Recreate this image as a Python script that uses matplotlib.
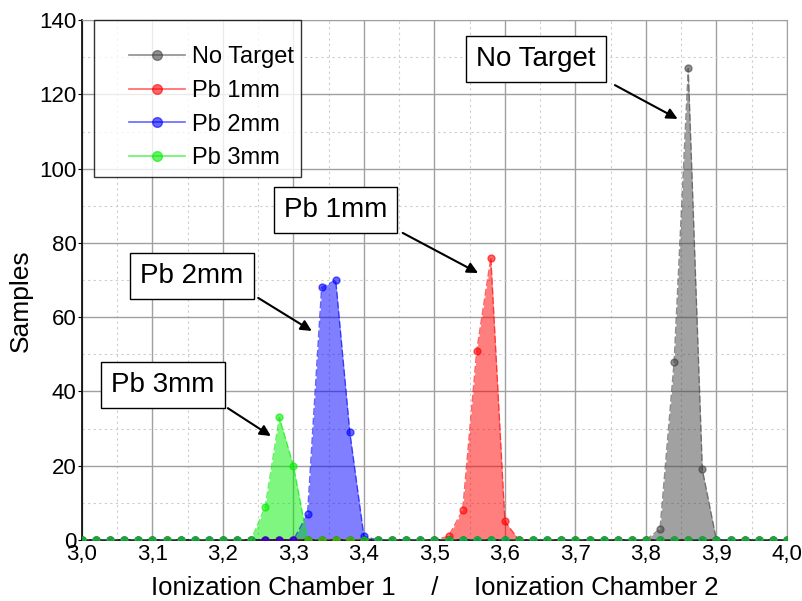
import numpy as np
import matplotlib
matplotlib.use("Agg")
import matplotlib.pyplot as plt
from matplotlib.legend_handler import HandlerLine2D
from matplotlib.ticker import MultipleLocator, FuncFormatter

plt.rcParams["font.family"] = ["Liberation Sans", "DejaVu Sans"]

# ── Data: histogram bins of 0.02 across 3.0 .. 4.0 ──────────────────────────
BINS = np.round(np.arange(3.00, 4.001, 0.02), 2)

# non-zero counts per series (bin centre -> samples)
NO_TARGET = {3.82: 3, 3.84: 48, 3.86: 127, 3.88: 19}
PB_1MM = {3.52: 1, 3.54: 8, 3.56: 51, 3.58: 76, 3.60: 5}
PB_2MM = {3.32: 7, 3.34: 68, 3.36: 70, 3.38: 29, 3.40: 1}
PB_3MM = {3.26: 9, 3.28: 33, 3.30: 20}

SERIES = [
    ("No Target", NO_TARGET, "#444444"),
    ("Pb 1mm", PB_1MM, "#ff0000"),
    ("Pb 2mm", PB_2MM, "#0000ff"),
    ("Pb 3mm", PB_3MM, "#00ee00"),
]

# text, box centre, arrow start, arrow tip
LABELS = [
    ("No Target", (3.644, 129.5), (3.756, 122.5), (3.845, 113.4)),
    ("Pb 1mm", (3.360, 88.9), (3.455, 82.7), (3.562, 71.9)),
    ("Pb 2mm", (3.156, 71.1), (3.250, 65.2), (3.326, 56.3)),
    ("Pb 3mm", (3.115, 41.7), (3.207, 35.5), (3.268, 28.0)),
]


def counts(d):
    return np.array([d.get(b, 0) for b in BINS], dtype=float)


class ShiftedLine(HandlerLine2D):
    """Line handle with some blank space before it."""
    def create_artists(self, legend, orig_handle, xdescent, ydescent, width,
                       height, fontsize, trans):
        off = 20
        return super().create_artists(legend, orig_handle, xdescent - off, ydescent,
                                      width - off, height, fontsize, trans)


fig = plt.figure(figsize=(8.03, 6.01), dpi=100)
ax = fig.add_axes([0.102, 0.1015, 0.878, 0.865])

for name, d, col in SERIES:
    y = counts(d)
    ax.fill_between(BINS, y, 0, color=col, alpha=0.5, linewidth=0, zorder=2)
    ax.plot(BINS, y, color=col, alpha=0.6, linewidth=1, linestyle=(0, (5, 2)),
            marker="o", markersize=5, label=name, zorder=3)

# legend uses solid lines
handles = [plt.Line2D([0], [0], color=c, alpha=0.6, lw=1.2, marker="o", markersize=7)
           for _, _, c in SERIES]
leg = ax.legend(handles, [s[0] for s in SERIES], loc="upper left",
                bbox_to_anchor=(0.017, 1.0), fontsize=17, frameon=True,
                fancybox=False, edgecolor="black", borderpad=0.3,
                labelspacing=0.5, handlelength=3.55, handletextpad=0.3,
                borderaxespad=0, title=" ", title_fontsize=5,
                handler_map={plt.Line2D: ShiftedLine()})
leg.get_frame().set_linewidth(1)

for txt, centre, start, tip in LABELS:
    ax.text(centre[0], centre[1], txt, fontsize=20, ha="center", va="center",
            bbox=dict(boxstyle="square,pad=0.36", fc="white", ec="black", lw=1),
            zorder=5)
    ax.annotate("", xy=tip, xytext=start,
                arrowprops=dict(arrowstyle="-|>", color="black", lw=1.5,
                                mutation_scale=16, shrinkA=0, shrinkB=0),
                zorder=5)

ax.set_xlim(3.0, 4.0)
ax.set_ylim(0, 140)
ax.xaxis.set_major_locator(MultipleLocator(0.1))
ax.xaxis.set_minor_locator(MultipleLocator(0.05))
ax.yaxis.set_major_locator(MultipleLocator(20))
ax.yaxis.set_minor_locator(MultipleLocator(10))
ax.xaxis.set_major_formatter(FuncFormatter(lambda v, p: f"{v:.1f}".replace(".", ",")))
ax.grid(True, which="major", color="#a0a0a0", lw=1, zorder=0)
ax.grid(True, which="minor", color="#cccccc", lw=0.8, linestyle=(0, (2, 3)), zorder=0)
ax.set_axisbelow(True)
ax.tick_params(which="both", labelsize=16)
ax.tick_params(axis="x", which="both", length=0, pad=3)
ax.tick_params(axis="y", which="major", length=3, pad=1)
ax.tick_params(axis="y", which="minor", length=0)

for s in ["top", "right"]:
    ax.spines[s].set_color("#a0a0a0")
for s in ["left", "bottom"]:
    ax.spines[s].set_color("black")
    ax.spines[s].set_linewidth(1.2)

ax.set_ylabel("Samples", fontsize=19)
ax.yaxis.set_label_coords(-0.07, 0.46)
ax.set_xlabel("Ionization Chamber 1     /     Ionization Chamber 2",
              fontsize=18.5, labelpad=8)

fig.savefig("out.png", dpi=100)
